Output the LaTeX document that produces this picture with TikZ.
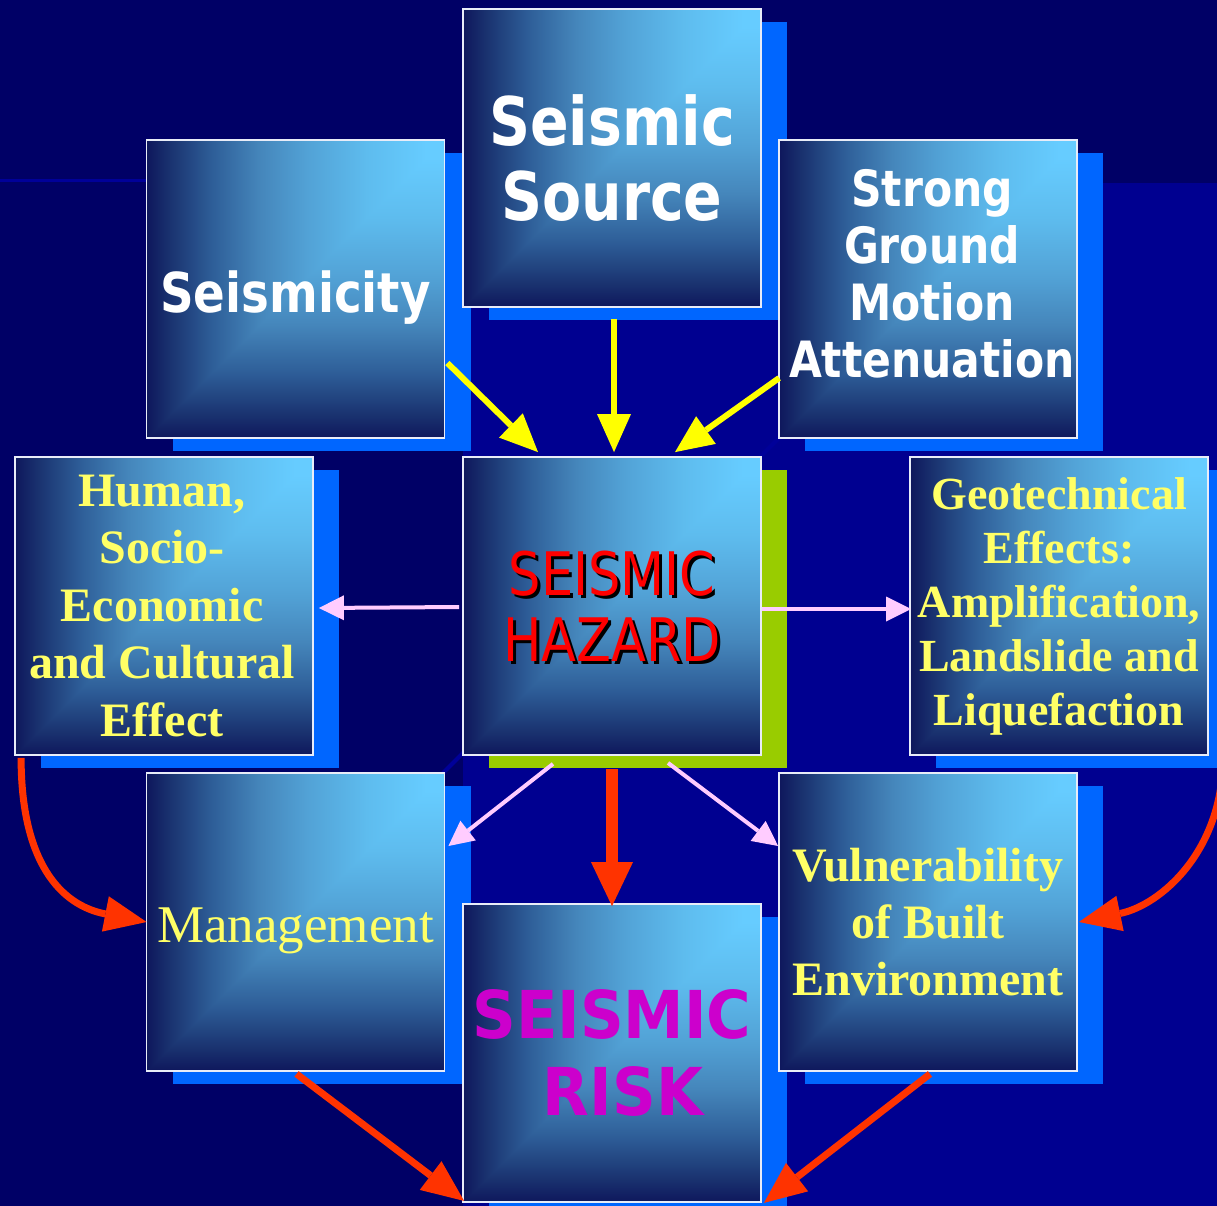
\documentclass[tikz,border=0pt]{standalone}
\usepackage{fontspec}
\usetikzlibrary{arrows.meta,calc,shadows}
\newfontfamily\tahfont[FakeStretch=0.85]{DejaVu Sans}
\newfontfamily\tahwide[FakeStretch=0.92]{DejaVu Sans}
\newfontfamily\timfont{Liberation Serif}
\definecolor{bgdark}{HTML}{000066}
\definecolor{bglight}{HTML}{000090}
\definecolor{lineblue}{HTML}{000099}
\definecolor{shadowblue}{HTML}{0066FF}
\definecolor{shadowgreen}{HTML}{99CC00}
\definecolor{glight}{HTML}{66CCFF}
\definecolor{gA}{HTML}{1A3370}
\definecolor{gB}{HTML}{2E5E98}
\definecolor{gC}{HTML}{4586BB}
\definecolor{gD}{HTML}{52A2D6}
\definecolor{gE}{HTML}{5EBCEE}
\definecolor{gdark}{HTML}{0E175C}
\definecolor{boxedge}{HTML}{E8ECF8}
\definecolor{ytxt}{HTML}{FFFF66}
\definecolor{yarr}{HTML}{FFFF00}
\definecolor{pinkc}{HTML}{FFCCFF}
\definecolor{redc}{HTML}{FF3300}
\definecolor{hazred}{HTML}{FF0000}
\definecolor{riskmag}{HTML}{CC00CC}
\pgfdeclarehorizontalshading{boxhor}{100bp}{color(0bp)=(gdark); color(25bp)=(gdark);
  color(29bp)=(gA); color(36bp)=(gB); color(44bp)=(gC); color(52bp)=(gD);
  color(62bp)=(gE); color(72bp)=(glight); color(100bp)=(glight)}
\pgfdeclareverticalshading{boxver}{100bp}{color(0bp)=(gdark); color(25bp)=(gdark);
  color(29bp)=(gA); color(36bp)=(gB); color(44bp)=(gC); color(52bp)=(gD);
  color(62bp)=(gE); color(72bp)=(glight); color(100bp)=(glight)}
\begin{document}
\begin{tikzpicture}[x=1pt,y=-1pt,
  gbox/.style={rectangle, minimum width=298pt, minimum height=298pt, inner sep=0pt,
    draw=boxedge, line width=1.8pt,
    drop shadow={shadow xshift=26pt, shadow yshift=-13pt, fill=#1, opacity=1},
    path picture={
      \shade[shading=boxhor]
        (path picture bounding box.south west) rectangle (path picture bounding box.north east);
      \begin{scope}
        \clip (path picture bounding box.south west) -- (path picture bounding box.south east)
          -- (path picture bounding box.north east) -- cycle;
        \shade[shading=boxver]
          (path picture bounding box.south west) rectangle (path picture bounding box.north east);
      \end{scope}
    }},
  gbox/.default=shadowblue,
  wtext/.style={text=white, align=center, inner sep=0pt},
  ytext/.style={text=ytxt, align=center, inner sep=0pt},
  yarrow/.style={draw=yarr, line width=6pt, -{Triangle[length=38pt,width=34pt,line width=0pt]}},
  parrow/.style={draw=pinkc, line width=4pt, -{Triangle[length=25pt,width=25pt,line width=0pt]}},
  rarrow/.style={draw=redc, line width=7pt, -{Triangle[length=42pt,width=36pt,line width=0pt]}},
  rbig/.style={draw=redc, line width=12pt, -{Triangle[length=44pt,width=42pt,line width=0pt]}}
]
\useasboundingbox (0,0) rectangle (1217,1206);
\clip (0,0) rectangle (1217,1206);
% background
\fill[bgdark] (0,0) rectangle (1217,1206);
\fill[bglight] (463,183) rectangle (1217,1206);
\draw[lineblue, line width=3pt] (0,181) -- (146,181);
\draw[lineblue, line width=4pt] (443,773) -- (780,437);

% boxes
\node[gbox] (seis) at (295.5,289) {};
\node[wtext, font={\tahfont\bfseries\fontsize{55}{60}\selectfont}, anchor=base] (seis-t) at ($(seis.center)+(0,23)$) {Seismicity};

\node[gbox] (src) at (612,158) {};
\node[wtext, font={\tahfont\bfseries\fontsize{67}{75}\selectfont}] (src-t) at (src.center) {Seismic\\Source};

\node[gbox] (strong) at (928,289) {};
\node[wtext, font={\tahfont\bfseries\fontsize{50}{57}\selectfont}] (strong-t) at ($(strong.center)+(4,-15)$) {Strong\\Ground\\Motion\\Attenuation};

\node[gbox] (human) at (164,606) {};
\node[ytext, font={\timfont\bfseries\fontsize{48}{57.5}\selectfont}] (human-t) at ($(human.center)+(-2,0)$) {Human,\\Socio-\\Economic\\and Cultural\\Effect};

\node[gbox=shadowgreen] (haz) at (612,606) {};
\node[align=center, inner sep=0pt, text=black, font={\tahfont\fontsize{60}{66}\selectfont}] (haz-s) at ($(haz.center)+(3,3)$) {SEISMIC\\HAZARD};
\node[align=center, inner sep=0pt, text=hazred, font={\tahfont\fontsize{60}{66}\selectfont}] (haz-t) at (haz.center) {SEISMIC\\HAZARD};

\node[gbox] (geo) at (1059,606) {};
\node[ytext, font={\timfont\bfseries\fontsize{46}{54}\selectfont}] (geo-t) at (geo.center) {Geotechnical\\Effects:\\Amplification,\\Landslide and\\Liquefaction};

\node[gbox] (mgmt) at (295.5,922) {};
\node[ytext, font={\timfont\fontsize{53}{60}\selectfont}, anchor=base] (mgmt-t) at ($(mgmt.center)+(0,20)$) {Management};

\node[gbox] (risk) at (612,1053) {};
\node[align=center, inner sep=0pt, text=riskmag, font={\tahwide\bfseries\fontsize{66}{77}\selectfont}] (risk-t) at (risk.center) {SEISMIC\\\hspace*{22pt}RISK};

\node[gbox] (vul) at (928,922) {};
\node[ytext, font={\timfont\bfseries\fontsize{48}{57}\selectfont}] (vul-t) at (vul.center) {Vulnerability\\of Built\\Environment};

% yellow arrows
\draw[yarrow] ($(seis.east)+(2,74)$) -- ($(haz.north)+(-74,-4)$);
\draw[yarrow] ($(src.south)+(2,11)$) -- ($(haz.north)+(2,-4)$);
\draw[yarrow] ($(strong.west)+(1,89)$) -- ($(haz.north)+(63,-4)$);
% pink arrows
\draw[parrow] ($(haz.west)+(-3,1)$) -- ($(human.east)+(5,2)$);
\draw[parrow] ($(haz.east)+(0,3)$) -- ($(geo.west)+(2,3)$);
\draw[parrow] ($(haz.south)+(-59,8)$) -- ($(mgmt.east)+(3,-76)$);
\draw[parrow] ($(haz.south)+(56,7)$) -- ($(vul.west)+(0,-76)$);
% red arrows
\draw[rbig] ($(haz.south)+(0,13)$) -- ($(risk.north)+(0,3)$);
\draw[rarrow] ($(human.south west)+(7,2)$) .. controls +(0,103) and +(-87,-17) .. ($(mgmt.west)+(1,0)$);
\draw[rarrow] ($(geo.south east)+(14,2)$) .. controls +(0,93) and +(82,-17) .. ($(vul.east)+(1,0)$);
\draw[rarrow] ($(mgmt.south)+(1,2)$) -- ($(risk.south west)+(2,-2)$);
\draw[rarrow] ($(vul.south)+(2,2)$) -- ($(risk.south east)+(2,0)$);
\end{tikzpicture}
\end{document}
